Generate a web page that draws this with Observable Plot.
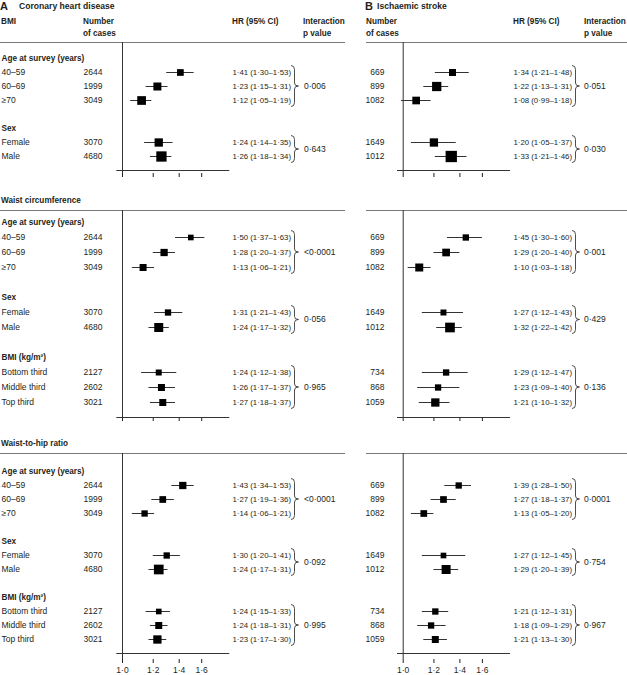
<!DOCTYPE html>
<html>
<head>
<meta charset="utf-8">
<script src="https://cdn.jsdelivr.net/npm/d3@7"></script>
<script src="https://cdn.jsdelivr.net/npm/@observablehq/plot@0.6"></script>
<style>
html,body{margin:0;padding:0;background:#fff;}
#chart{position:relative;width:627px;height:675px;overflow:hidden;font-family:"Liberation Sans",Arial,sans-serif;color:#231f20;}
.lbl{position:absolute;white-space:nowrap;font-size:8.5px;line-height:11px;transform:translateY(-50%);}
.bold{font-weight:bold;font-size:8.2px;}
.rule{position:absolute;height:0;border-top:1px solid #7a7a7a;}
.panel{position:absolute;}
.panel svg{display:block;overflow:visible;}
</style>
</head>
<body>
<div id="chart"></div>
<script>
// ---------------- DATA ----------------
const outcomes = ["Coronary heart disease", "Ischaemic stroke"];
const panelLetters = ["A", "B"];
const measures = ["BMI", "Waist circumference", "Waist-to-hip ratio"];
const groupHeaders = ["Age at survey (years)", "Sex", "BMI (kg/m²)"];
const subgroupLabels = ["40–59", "60–69", "≥70", "Female", "Male", "Bottom third", "Middle third", "Top third"];
const subgroupGroup = [0, 0, 0, 1, 1, 2, 2, 2];
const casesCHD = [2644, 1999, 3049, 3070, 4680, 2127, 2602, 3021];
const casesIS = [669, 899, 1082, 1649, 1012, 734, 868, 1059];
const axisTicks = [1.0, 1.2, 1.4, 1.6];
const axisExtent = [0.967, 1.89];

// Coronary heart disease
const chdBmiHR = [1.41, 1.23, 1.12, 1.24, 1.26];
const chdBmiLo = [1.30, 1.15, 1.05, 1.14, 1.18];
const chdBmiHi = [1.53, 1.31, 1.19, 1.35, 1.34];
const chdBmiW  = [45, 64, 76, 69, 106];
const chdBmiP  = ["0·006", "0·643"];

const chdWcHR = [1.50, 1.28, 1.13, 1.31, 1.24, 1.24, 1.26, 1.27];
const chdWcLo = [1.37, 1.20, 1.06, 1.21, 1.17, 1.12, 1.17, 1.18];
const chdWcHi = [1.63, 1.37, 1.21, 1.43, 1.32, 1.38, 1.37, 1.37];
const chdWcW  = [32, 53, 49, 40, 81, 36, 49, 49];
const chdWcP  = ["<0·0001", "0·056", "0·965"];

const chdWhrHR = [1.43, 1.27, 1.14, 1.30, 1.24, 1.24, 1.24, 1.23];
const chdWhrLo = [1.34, 1.19, 1.06, 1.20, 1.17, 1.15, 1.18, 1.17];
const chdWhrHi = [1.53, 1.36, 1.21, 1.41, 1.31, 1.33, 1.31, 1.30];
const chdWhrW  = [53, 45, 40, 40, 94, 32, 49, 69];
const chdWhrP  = ["<0·0001", "0·092", "0·995"];

// Ischaemic stroke
const isBmiHR = [1.34, 1.22, 1.08, 1.20, 1.33];
const isBmiLo = [1.21, 1.13, 0.99, 1.05, 1.21];
const isBmiHi = [1.48, 1.31, 1.18, 1.37, 1.46];
const isBmiW  = [49, 86, 59, 69, 128];
const isBmiP  = ["0·051", "0·030"];

const isWcHR = [1.45, 1.29, 1.10, 1.27, 1.32, 1.29, 1.23, 1.21];
const isWcLo = [1.30, 1.20, 1.03, 1.12, 1.22, 1.12, 1.09, 1.10];
const isWcHi = [1.60, 1.40, 1.18, 1.43, 1.42, 1.47, 1.40, 1.32];
const isWcW  = [40, 59, 64, 36, 94, 40, 40, 69];
const isWcP  = ["0·001", "0·429", "0·136"];

const isWhrHR = [1.39, 1.27, 1.13, 1.27, 1.29, 1.21, 1.18, 1.21];
const isWhrLo = [1.28, 1.18, 1.05, 1.12, 1.20, 1.12, 1.09, 1.13];
const isWhrHi = [1.50, 1.37, 1.20, 1.45, 1.39, 1.31, 1.29, 1.30];
const isWhrW  = [40, 45, 45, 32, 81, 40, 40, 49];
const isWhrP  = ["0·0001", "0·754", "0·967"];

// ---------------- ASSEMBLY ----------------
const series = [
  [
    {hr: chdBmiHR, lo: chdBmiLo, hi: chdBmiHi, w: chdBmiW, p: chdBmiP},
    {hr: chdWcHR, lo: chdWcLo, hi: chdWcHi, w: chdWcW, p: chdWcP},
    {hr: chdWhrHR, lo: chdWhrLo, hi: chdWhrHi, w: chdWhrW, p: chdWhrP}
  ],
  [
    {hr: isBmiHR, lo: isBmiLo, hi: isBmiHi, w: isBmiW, p: isBmiP},
    {hr: isWcHR, lo: isWcLo, hi: isWcHi, w: isWcW, p: isWcP},
    {hr: isWhrHR, lo: isWhrLo, hi: isWhrHi, w: isWhrW, p: isWhrP}
  ]
];
const casesBy = [casesCHD, casesIS];

// layout (page pixels)
const sections = [
  {rule: 42, first: 54, axis: 173, bottom: 183, titleY: null, tickLabels: false},
  {rule: 210, first: 221.7, axis: 417, bottom: 427, titleY: 200, tickLabels: false},
  {rule: 453, first: 465, axis: 659, bottom: 675, titleY: 443.3, tickLabels: true}
];
const panels = [
  {left: 0, width: 345, x10: 122, x16: 201.2, labels: true, casesX: 83, casesAnchor: "start", hrX: 232, braceX: 291, pX: 304,
   head: {letter: 0, title: 19, number: 83, hr: 232, inter: 303}},
  {left: 366, width: 261, x10: 36.7, x16: 115.9, labels: false, casesX: 18, casesAnchor: "end", hrX: 147, braceX: 206, pX: 218,
   head: {letter: 365, title: 377, number: 366, hr: 513, inter: 584}}
];

const dec = (f) => (v) => d3.format(f)(v).replace(".", "·");
const f2 = dec(".2f"), f1 = dec(".1f");
const ink = "#231f20";

const chart = document.getElementById("chart");
function addLabel(text, x, y, cls = "", style = "") {
  const d = document.createElement("div");
  d.className = "lbl " + cls;
  d.textContent = text;
  d.style.cssText = `left:${x}px;top:${y}px;${style}`;
  chart.appendChild(d);
}
function addRule(x, y, w) {
  const d = document.createElement("div");
  d.className = "rule";
  d.style.cssText = `left:${x}px;top:${y}px;width:${w}px;`;
  chart.appendChild(d);
}

// headers
panels.forEach((pn, pi) => {
  const h = pn.head;
  addLabel(panelLetters[pi], h.letter, 5.5, "bold", "font-size:11px;");
  addLabel(outcomes[pi], h.title, 5.5, "", "font-size:8.6px;font-weight:bold;");
  if (pn.labels) addLabel(measures[0], 1, 21, "bold");
  addLabel("Number", h.number, 21, "bold");
  addLabel("of cases", h.number, 33, "bold");
  addLabel("HR (95% CI)", h.hr, 21, "bold");
  addLabel("Interaction", h.inter, 21, "bold");
  addLabel("p value", h.inter, 33, "bold");
});
sections.forEach((sec, si) => {
  if (sec.titleY != null) addLabel(measures[si], 1, sec.titleY, "bold");
  panels.forEach(pn => addRule(pn.left, sec.rule, pn.width));
});

// brace + p-value custom mark
function braceMark(groups, bx, px) {
  return (index, scales, values, dims) => {
    const g = d3.create("svg:g");
    for (const gr of groups) {
      const y0 = scales.y(gr.first) - 6.5, y1 = scales.y(gr.last) + 6.5, ym = (y0 + y1) / 2;
      const xa = bx, xb = bx + 3.5, xc = bx + 7.5;
      g.append("path")
        .attr("fill", "none").attr("stroke", ink).attr("stroke-width", 0.8)
        .attr("d", `M${xa},${y0}Q${xb},${y0} ${xb},${y0 + 4}L${xb},${ym - 3}Q${xb},${ym} ${xc},${ym}Q${xb},${ym} ${xb},${ym + 3}L${xb},${y1 - 4}Q${xb},${y1} ${xa},${y1}`);
      g.append("text")
        .attr("x", px).attr("y", ym).attr("dy", "0.32em")
        .attr("text-anchor", "start")
        .attr("fill", ink).attr("font-size", 8.5)
        .text(gr.p);
    }
    return g.node();
  };
}

sections.forEach((sec, si) => {
  panels.forEach((pn, pi) => {
    const s = series[pi][si];
    const n = s.hr.length;
    const keys = [];
    const rows = [], heads = [], groups = [];
    let lastGroup = -1;
    for (let i = 0; i < n; i++) {
      const g = subgroupGroup[i];
      if (g !== lastGroup) {
        if (lastGroup >= 0) keys.push("gap" + g);
        keys.push("h" + g);
        heads.push({key: "h" + g, label: groupHeaders[g]});
        groups.push({first: "r" + i, last: "r" + i, p: s.p[g]});
        lastGroup = g;
      }
      groups[groups.length - 1].last = "r" + i;
      keys.push("r" + i);
      rows.push({
        key: "r" + i, label: subgroupLabels[i], cases: casesBy[pi][i],
        hr: s.hr[i], lo: s.lo[i], hi: s.hi[i], w: s.w[i],
        txt: `${f2(s.hr[i])} (${f2(s.lo[i])}–${f2(s.hi[i])})`
      });
    }
    keys.push("axis");

    const top = sec.rule - 2;
    const height = sec.bottom - top;
    const marks = [
      Plot.ruleX([1], {stroke: "#333", strokeWidth: 1}),
      Plot.ruleY(["axis"], {x1: () => axisExtent[0], x2: () => axisExtent[1], stroke: "#333", strokeWidth: 1}),
      Plot.ruleY(rows, {y: "key", x1: "lo", x2: "hi", stroke: "#333", strokeWidth: 1}),
      Plot.dot(rows, {x: "hr", y: "key", r: "w", symbol: "square", fill: "#000", stroke: null}),
      Plot.text(rows, {y: "key", text: (d) => String(d.cases), frameAnchor: "left", dx: pn.casesX, textAnchor: pn.casesAnchor, fill: ink, fontSize: 8.5}),
      Plot.text(rows, {y: "key", text: "txt", frameAnchor: "left", dx: pn.hrX, textAnchor: "start", fill: ink, fontSize: 7.8}),
      braceMark(groups, pn.braceX, pn.pX)
    ];
    if (pn.labels) {
      marks.push(Plot.text(rows, {y: "key", text: "label", frameAnchor: "left", dx: 1, textAnchor: "start", fill: ink, fontSize: 8.5}));
      marks.push(Plot.text(heads, {y: "key", text: "label", frameAnchor: "left", dx: 1, textAnchor: "start", fill: ink, fontSize: 8.2, fontWeight: "bold"}));
    }

    const svg = Plot.plot({
      width: pn.width,
      height,
      marginTop: 2,
      marginLeft: 0,
      marginRight: 0,
      marginBottom: sec.bottom - sec.axis,
      x: {type: "log", domain: [1, 1.6], range: [pn.x10, pn.x16], ticks: axisTicks, tickSize: 4, tickPadding: 3,
          tickFormat: sec.tickLabels ? f1 : () => "", label: null},
      y: {type: "point", domain: keys, range: [sec.first - top, sec.axis - top], padding: 0, axis: null},
      r: {type: "sqrt", domain: [0, 100], range: [0, 10 / Math.sqrt(Math.PI)]},
      style: {background: "transparent", overflow: "visible", fontFamily: '"Liberation Sans", Arial, sans-serif', fontSize: "8.5px", color: ink},
      marks
    });
    const wrap = document.createElement("div");
    wrap.className = "panel";
    wrap.style.cssText = `left:${pn.left}px;top:${top}px;`;
    wrap.appendChild(svg);
    chart.appendChild(wrap);
  });
});
</script>
</body>
</html>
